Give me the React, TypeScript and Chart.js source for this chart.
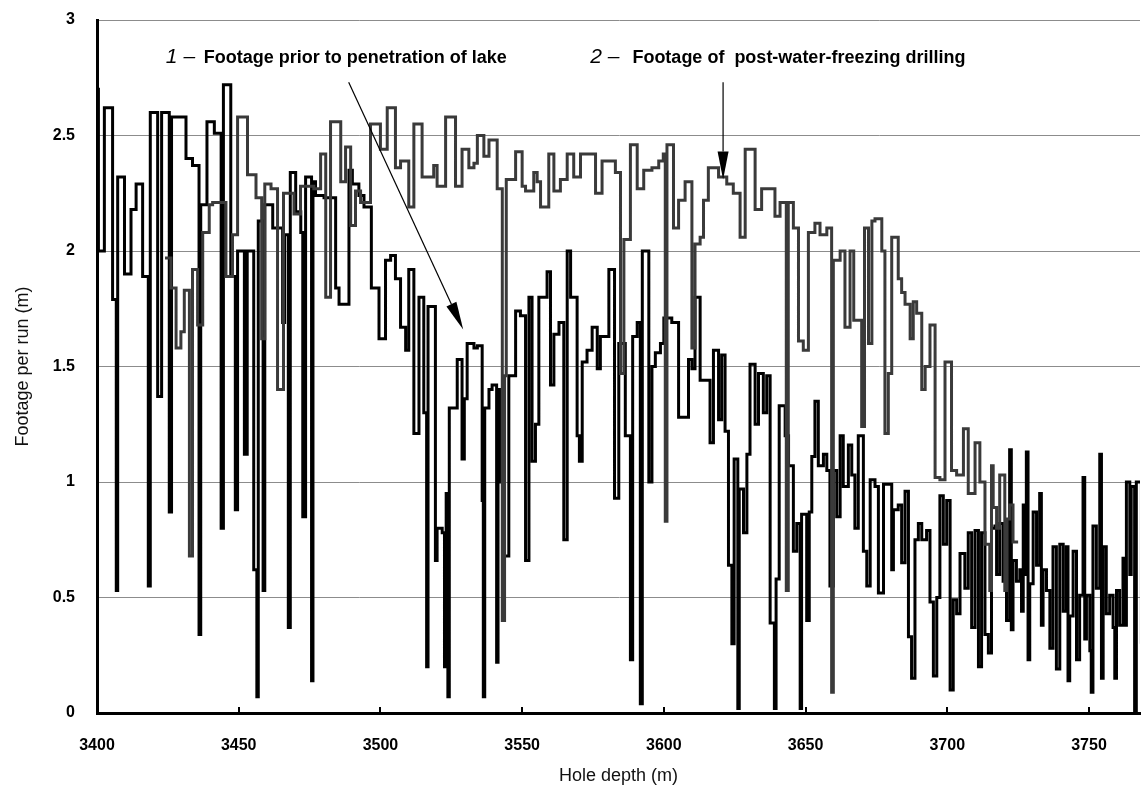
import React, { useEffect, useRef } from "react";
import { Chart, registerables } from "chart.js";
Chart.register(...registerables);

// Series 1: footage prior to penetration of lake (segment start depth, footage)
const depth1 = [
  3400.0, 3400.5, 3402.6, 3405.5, 3406.8, 3407.3, 3409.7, 3412.0, 3413.8, 3416.1,
  3418.1, 3418.8, 3421.4, 3422.8, 3425.5, 3426.3, 3431.4, 3433.7, 3436.0, 3436.6,
  3438.8, 3441.4, 3443.8, 3444.6, 3447.2, 3448.8, 3449.6, 3452.0, 3453.0, 3455.3,
  3456.4, 3456.9, 3458.6, 3459.2, 3462.0, 3465.5, 3466.2, 3467.5, 3468.2, 3470.1,
  3471.9, 3472.6, 3473.6, 3475.7, 3476.2, 3477.1, 3480.1, 3484.2, 3485.4, 3488.9,
  3490.1, 3492.4, 3494.2, 3496.8, 3499.5, 3501.8, 3503.6, 3505.3, 3507.1, 3508.9,
  3510.0, 3511.8, 3513.6, 3515.3, 3516.3, 3516.8, 3519.4, 3520.0, 3521.8, 3522.6,
  3523.2, 3523.8, 3524.3, 3527.1, 3528.8, 3529.6, 3530.6, 3533.0, 3534.2, 3535.9,
  3536.3, 3536.8, 3538.3, 3539.4, 3541.0, 3541.5, 3542.4, 3543.5, 3545.3, 3547.7,
  3549.4, 3551.2, 3552.4, 3553.5, 3554.7, 3555.9, 3558.8, 3560.0, 3561.2, 3563.0,
  3564.7, 3565.9, 3567.1, 3569.4, 3570.2, 3571.2, 3572.9, 3574.7, 3576.5, 3577.6,
  3580.6, 3582.6, 3584.1, 3586.4, 3588.2, 3589.0, 3590.6, 3591.7, 3592.4, 3594.7,
  3595.8, 3597.0, 3598.8, 3600.0, 3602.8, 3605.2, 3608.7, 3609.9, 3611.0, 3612.8,
  3616.3, 3617.5, 3619.3, 3620.4, 3621.6, 3622.8, 3624.0, 3624.8, 3626.1, 3626.6,
  3628.1, 3629.3, 3630.4, 3632.2, 3633.4, 3635.1, 3636.3, 3637.5, 3639.0, 3639.6,
  3640.7, 3642.8, 3644.0, 3645.7, 3646.9, 3648.1, 3648.6, 3650.4, 3651.3, 3652.2,
  3653.3, 3654.5, 3656.3, 3657.5, 3658.6, 3659.8, 3661.0, 3662.2, 3663.3, 3665.1,
  3666.3, 3667.4, 3668.6, 3670.4, 3671.6, 3672.8, 3674.5, 3675.7, 3677.5, 3680.4,
  3681.0, 3682.7, 3683.9, 3685.1, 3686.3, 3687.4, 3688.6, 3689.8, 3691.0, 3692.7,
  3693.9, 3695.1, 3696.3, 3697.4, 3698.6, 3699.8, 3701.0, 3702.1, 3703.3, 3704.5,
  3706.2, 3707.4, 3708.6, 3709.8, 3711.0, 3712.1, 3713.3, 3714.5, 3715.6, 3716.8,
  3717.4, 3718.5, 3719.7, 3720.9, 3722.0, 3722.6, 3723.2, 3724.4, 3725.6, 3726.2,
  3726.8, 3727.3, 3727.9, 3728.5, 3729.1, 3730.3, 3731.5, 3732.6, 3733.2, 3733.8,
  3735.0, 3736.2, 3737.3, 3738.5, 3739.7, 3740.9, 3742.0, 3742.6, 3743.2, 3744.4,
  3745.6, 3746.7, 3747.9, 3748.5, 3749.1, 3750.3, 3750.8, 3751.4, 3752.6, 3753.8,
  3754.4, 3755.0, 3756.1, 3757.3, 3758.5, 3759.1, 3759.7, 3760.8, 3762.0, 3762.6,
  3763.2, 3764.4, 3764.9, 3766.1, 3766.7, 3768.5,
];
const foot1 = [
  2.70, 2.00, 2.62, 1.79, 0.53, 2.32, 1.90, 2.18, 2.29, 1.89,
  0.55, 2.60, 1.37, 2.60, 0.87, 2.58, 2.40, 2.37, 0.34, 2.20,
  2.56, 2.51, 0.80, 2.72, 1.89, 0.88, 2.00, 1.12, 2.00, 0.62,
  0.07, 2.13, 0.53, 2.20, 2.10, 1.69, 2.07, 0.37, 2.34, 2.17,
  2.08, 0.85, 2.32, 0.14, 2.30, 2.24, 2.23, 1.84, 1.77, 2.35,
  2.29, 2.24, 2.19, 1.84, 1.62, 1.96, 1.98, 1.88, 1.67, 1.57,
  1.92, 1.21, 1.80, 1.30, 0.20, 1.76, 0.66, 0.80, 0.78, 0.20,
  0.95, 0.07, 1.32, 1.53, 1.10, 1.36, 1.60, 1.58, 1.59, 0.92,
  0.07, 1.32, 1.40, 1.42, 0.22, 1.40, 1.00, 0.68, 1.46, 1.74,
  1.72, 0.66, 1.80, 1.09, 1.25, 1.80, 1.91, 1.42, 1.64, 1.69,
  0.75, 2.00, 1.80, 1.20, 1.09, 1.52, 1.57, 1.67, 1.49, 1.63,
  1.92, 0.93, 1.60, 1.20, 0.23, 1.63, 1.69, 0.04, 2.00, 1.00,
  1.50, 1.56, 1.60, 1.71, 1.69, 1.28, 1.53, 1.49, 1.80, 1.44,
  1.17, 1.57, 1.27, 1.55, 1.22, 0.64, 0.30, 1.10, 0.02, 0.97,
  0.78, 1.12, 1.51, 1.25, 1.47, 1.30, 1.46, 0.39, 0.02, 0.58,
  1.33, 1.20, 1.07, 0.70, 0.82, 0.02, 0.86, 0.40, 0.87, 1.11,
  1.35, 1.07, 1.12, 1.05, 0.55, 1.05, 0.85, 1.20, 0.98, 1.16,
  1.03, 0.80, 1.20, 0.70, 0.55, 1.01, 0.98, 0.52, 0.99, 0.62,
  0.88, 0.90, 0.65, 0.96, 0.33, 0.15, 0.75, 0.82, 0.75, 0.79,
  0.48, 0.16, 0.50, 0.94, 0.73, 0.92, 0.10, 0.49, 0.43, 0.69,
  0.54, 0.78, 0.37, 0.79, 0.20, 0.78, 0.34, 0.26, 0.80, 0.81,
  0.60, 0.82, 0.57, 0.40, 1.14, 0.36, 0.66, 0.57, 0.62, 0.44,
  0.90, 0.60, 1.13, 0.23, 0.56, 0.87, 0.64, 0.95, 0.38, 0.62,
  0.53, 0.28, 0.72, 0.19, 0.73, 0.44, 0.72, 0.14, 0.42, 0.70,
  0.23, 0.51, 1.02, 0.32, 0.51, 0.27, 0.09, 0.81, 0.54, 1.12,
  0.15, 0.72, 0.43, 0.51, 0.37, 0.15, 0.53, 0.38, 0.67, 0.38,
  1.00, 0.60, 0.98, 0.00, 1.00, 0.30,
];

// Series 2: footage of post-water-freezing drilling
const depth2 = [
  3424.0, 3426.1, 3427.9, 3429.6, 3430.8, 3432.6, 3433.7, 3435.5, 3437.3, 3439.6,
  3440.8, 3445.5, 3447.8, 3449.6, 3453.1, 3456.1, 3458.1, 3459.2, 3461.4, 3463.7,
  3465.8, 3469.5, 3471.8, 3476.5, 3478.9, 3480.7, 3482.4, 3486.0, 3487.7, 3489.5,
  3491.2, 3493.0, 3496.5, 3500.0, 3502.4, 3505.3, 3507.1, 3510.0, 3511.8, 3514.7,
  3518.8, 3520.0, 3523.0, 3526.5, 3528.8, 3531.2, 3533.0, 3534.2, 3536.5, 3538.3,
  3541.2, 3543.0, 3543.8, 3544.4, 3547.7, 3550.0, 3551.2, 3554.1, 3555.3, 3556.5,
  3559.4, 3561.2, 3563.5, 3565.9, 3568.2, 3570.6, 3575.9, 3578.2, 3582.9, 3584.7,
  3585.9, 3588.2, 3590.6, 3592.9, 3595.8, 3598.2, 3599.8, 3600.5, 3601.1, 3603.4,
  3605.2, 3607.5, 3609.9, 3611.0, 3612.8, 3614.0, 3615.7, 3619.3, 3622.2, 3624.5,
  3626.9, 3628.7, 3632.2, 3634.5, 3639.2, 3641.0, 3643.2, 3643.9, 3645.7, 3647.5,
  3649.2, 3651.0, 3653.3, 3655.1, 3657.5, 3659.2, 3659.8, 3662.2, 3663.9, 3665.7,
  3667.0, 3669.8, 3670.8, 3672.2, 3673.4, 3674.5, 3676.9, 3678.0, 3679.2, 3680.4,
  3682.7, 3683.9, 3685.1, 3686.9, 3688.0, 3689.2, 3691.0, 3692.2, 3693.9, 3695.7,
  3697.4, 3699.2, 3701.5, 3703.3, 3705.7, 3707.4, 3709.8, 3711.5, 3713.3, 3715.0,
  3715.6, 3716.2, 3717.4, 3718.5, 3720.3, 3720.9, 3722.0, 3723.2, 3725.0,
];
const foot2 = [
  1.97, 1.84, 1.58, 1.65, 1.83, 0.68, 1.92, 1.68, 2.08, 2.20,
  2.21, 1.89, 2.07, 2.58, 2.33, 2.23, 1.62, 2.29, 2.27, 1.40,
  2.25, 2.16, 2.28, 2.27, 2.42, 1.80, 2.56, 2.30, 2.45, 2.11,
  2.26, 2.21, 2.55, 2.44, 2.62, 2.36, 2.39, 2.19, 2.55, 2.32,
  2.37, 2.28, 2.58, 2.28, 2.44, 2.36, 2.38, 2.50, 2.41, 2.48,
  2.27, 0.40, 1.46, 2.31, 2.43, 2.28, 2.26, 2.34, 2.30, 2.19,
  2.42, 2.26, 2.31, 2.42, 2.32, 2.42, 2.25, 2.39, 2.34, 1.47,
  2.05, 2.46, 2.27, 2.35, 2.36, 2.39, 2.42, 0.83, 2.46, 2.10,
  2.22, 2.30, 1.58, 2.03, 2.06, 2.22, 2.36, 2.32, 2.29, 2.25,
  2.06, 2.44, 2.18, 2.27, 2.15, 2.21, 0.53, 2.21, 2.10, 1.61,
  1.57, 2.08, 2.12, 2.07, 2.10, 0.09, 1.96, 2.00, 1.67, 2.00,
  1.70, 1.24, 2.10, 1.60, 2.13, 2.14, 2.00, 1.21, 1.47, 2.06,
  1.88, 1.82, 1.77, 1.62, 1.78, 1.73, 1.40, 1.50, 1.68, 1.02,
  1.01, 1.52, 1.05, 1.03, 1.23, 0.95, 1.17, 1.00, 0.73, 0.53,
  1.07, 0.89, 0.80, 1.03, 0.53, 0.84, 0.90, 0.74, 0.74,
];

const xTicks = [3400, 3450, 3500, 3550, 3600, 3650, 3700, 3750];
const yTicks = [0, 0.5, 1, 1.5, 2, 2.5, 3];
const xTitle = "Hole depth (m)";
const yTitle = "Footage per run (m)";
const label1Num = "1 \u2013";
const label1Text = "Footage prior to penetration of lake";
const label2Num = "2 \u2013";
const label2Text = "Footage of  post-water-freezing drilling";
// annotation anchor points in data units: [depth, footage]
const labelPos1 = [3424.3, 2.84];
const labelPos2 = [3574.0, 2.84];
const labelTextDepth = [3437.7, 3588.9];
const labelTextEnd = [3547.3, 3708.3];
const arrows = [
  { from: [3488.8, 2.73], to: [3529.2, 1.66] },
  { from: [3620.9, 2.73], to: [3620.9, 2.31] },
];

const FONT = "'Liberation Sans', Arial, sans-serif";

const overlayPlugin = {
  id: "overlay",
  afterDraw(chart: any) {
    const { ctx, chartArea } = chart;
    const xs = chart.scales.x;
    const ys = chart.scales.y;
    ctx.save();
    // inside tick marks on x axis
    ctx.strokeStyle = "#000";
    ctx.lineWidth = 2;
    xs.ticks.forEach((t: any) => {
      const px = Math.round(xs.getPixelForValue(t.value));
      ctx.beginPath();
      ctx.moveTo(px, chartArea.bottom);
      ctx.lineTo(px, chartArea.bottom - 6);
      ctx.stroke();
    });
    // labels
    ctx.fillStyle = "#000";
    ctx.textBaseline = "middle";
    ctx.textAlign = "left";
    const drawLabel = (pos: number[], num: string, text: string, tx: number, te: number) => {
      const px = xs.getPixelForValue(pos[0]);
      const py = ys.getPixelForValue(pos[1]);
      ctx.font = `italic 21px ${FONT}`;
      ctx.fillText(num, px, py);
      const x0 = xs.getPixelForValue(tx);
      const x1 = xs.getPixelForValue(te);
      ctx.font = `bold 18px ${FONT}`;
      ctx.fillText(text, x0, py + 1, x1 - x0);
    };
    drawLabel(labelPos1, label1Num, label1Text, labelTextDepth[0], labelTextEnd[0]);
    drawLabel(labelPos2, label2Num, label2Text, labelTextDepth[1], labelTextEnd[1]);
    // arrows
    arrows.forEach((a) => {
      const x0 = xs.getPixelForValue(a.from[0]);
      const y0 = ys.getPixelForValue(a.from[1]);
      const x1 = xs.getPixelForValue(a.to[0]);
      const y1 = ys.getPixelForValue(a.to[1]);
      const ang = Math.atan2(y1 - y0, x1 - x0);
      const L = 28;
      const W = 5.5;
      const bx = x1 - L * Math.cos(ang);
      const by = y1 - L * Math.sin(ang);
      ctx.strokeStyle = "#000";
      ctx.lineWidth = 1.2;
      ctx.beginPath();
      ctx.moveTo(x0, y0);
      ctx.lineTo(bx, by);
      ctx.stroke();
      ctx.beginPath();
      ctx.moveTo(x1, y1);
      ctx.lineTo(bx + W * Math.sin(ang), by - W * Math.cos(ang));
      ctx.lineTo(bx - W * Math.sin(ang), by + W * Math.cos(ang));
      ctx.closePath();
      ctx.fill();
    });
    ctx.restore();
  },
};

export default function App() {
  const ref = useRef<HTMLCanvasElement>(null);
  useEffect(() => {
    document.body.style.margin = "0";
    const canvas = ref.current!;
    const s1 = depth1.map((d, i) => ({ x: d, y: foot1[i] }));
    const s2 = depth2.map((d, i) => ({ x: d, y: foot2[i] }));
    const chart = new Chart(canvas, {
      type: "line",
      data: {
        datasets: [
          {
            label: "2",
            data: s2,
            borderColor: "#3a3a3a",
            borderWidth: 3,
            stepped: "before",
            pointRadius: 0,
            fill: false,
            borderJoinStyle: "miter",
          },
          {
            label: "1",
            data: s1,
            borderColor: "#000000",
            borderWidth: 3,
            stepped: "before",
            pointRadius: 0,
            fill: false,
            borderJoinStyle: "miter",
          },
        ],
      },
      options: {
        animation: false,
        responsive: false,
        devicePixelRatio: 1,
        layout: { padding: { top: 20, right: 2, left: 0, bottom: 0 } },
        plugins: { legend: { display: false }, tooltip: { enabled: false } },
        scales: {
          x: {
            type: "linear",
            min: 3400,
            max: 3768,
            afterBuildTicks: (sc: any) => {
              sc.ticks = xTicks.map((v) => ({ value: v }));
            },
            afterFit: (sc: any) => {
              sc.height = 74;
            },
            grid: { display: false, drawTicks: false },
            border: { display: true, color: "#000", width: 3 },
            ticks: {
              padding: 23,
              color: "#000",
              font: { family: FONT, size: 16, weight: "bold" },
              maxRotation: 0,
              callback: (v: any) => String(v),
            },
            title: {
              display: true,
              text: xTitle,
              color: "#111",
              font: { family: FONT, size: 18 },
              padding: { top: 0, bottom: 0 },
            },
          },
          y: {
            type: "linear",
            min: 0,
            max: 3,
            afterBuildTicks: (sc: any) => {
              sc.ticks = yTicks.map((v) => ({ value: v }));
            },
            afterFit: (sc: any) => {
              sc.width = 97;
              sc.paddingTop = 8;
              sc.paddingBottom = 8;
            },
            grid: { color: "#8c8c8c", lineWidth: 1, drawTicks: false },
            border: { display: true, color: "#000", width: 3 },
            ticks: {
              padding: 22,
              color: "#000",
              font: { family: FONT, size: 16, weight: "bold" },
              callback: (v: any) => String(v),
            },
            title: {
              display: true,
              text: yTitle,
              color: "#111",
              font: { family: FONT, size: 18 },
              padding: { top: 12, bottom: 0 },
            },
          },
        },
      },
      plugins: [overlayPlugin],
    } as any);
    return () => chart.destroy();
  }, []);
  return (
    <div style={{ width: 1142, height: 787 }}>
      <canvas ref={ref} width={1142} height={787} />
    </div>
  );
}
